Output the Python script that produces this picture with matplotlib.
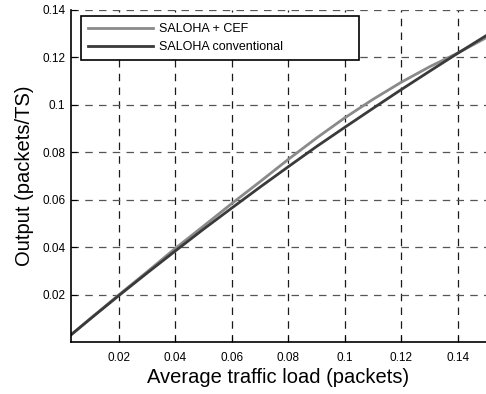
import matplotlib.pyplot as plt

# traffic load G and throughput S for both schemes
load = [0.003, 0.01, 0.02, 0.03, 0.04, 0.05, 0.06, 0.07, 0.08,
        0.09, 0.10, 0.11, 0.12, 0.13, 0.14, 0.15]
saloha_cef = [0.003, 0.0100, 0.0199, 0.0296, 0.0395, 0.0489, 0.0584, 0.0676,
              0.0770, 0.0860, 0.0945, 0.1023, 0.1095, 0.1160, 0.1218, 0.1282]
saloha_conv = [0.003, 0.0099, 0.0196, 0.0291, 0.0384, 0.0476, 0.0565, 0.0653,
               0.0739, 0.0824, 0.0905, 0.0985, 0.1064, 0.1141, 0.1217, 0.1291]

xticks = [0.02, 0.04, 0.06, 0.08, 0.1, 0.12, 0.14]
xtick_labels = ["0.02", "0.04", "0.06", "0.08", "0.1", "0.12", "0.14"]
yticks = [0.02, 0.04, 0.06, 0.08, 0.1, 0.12, 0.14]
ytick_labels = ["0.02", "0.04", "0.06", "0.08", "0.1", "0.12", "0.14"]

plt.rcParams["font.family"] = ["Liberation Sans", "DejaVu Sans"]

fig = plt.figure(figsize=(4.86, 3.94), dpi=100)
ax = fig.add_axes([0.146, 0.132, 0.854, 0.843])

ax.plot(load, saloha_cef, color="#8a8a8a", linewidth=2.0, label="SALOHA + CEF")
ax.plot(load, saloha_conv, color="#3a3a3a", linewidth=2.0, label="SALOHA conventional")

ax.set_xlim(0.003, 0.15)
ax.set_ylim(0, 0.14)
ax.set_xticks(xticks)
ax.set_xticklabels(xtick_labels)
ax.set_yticks(yticks)
ax.set_yticklabels(ytick_labels)
ax.tick_params(direction="in", length=4, labelsize=8.5, width=0.8)
ax.tick_params(axis="x", pad=7)
ax.tick_params(axis="y", pad=4)

ax.xaxis.grid(True, linestyle=(0, (6, 5)), color="#1a1a1a", linewidth=0.9)
ax.yaxis.grid(True, linestyle=(0, (6, 5)), color="#555555", linewidth=0.9)
ax.set_axisbelow(True)

for side in ("top", "right"):
    ax.spines[side].set_visible(False)
for side in ("left", "bottom"):
    ax.spines[side].set_linewidth(1.2)

ax.set_xlabel("Average traffic load (packets)", fontsize=14.5, labelpad=3)
ax.set_ylabel("Output (packets/TS)", fontsize=14.5, labelpad=6)

# fixed-width legend box in the upper left corner
leg = ax.legend(loc="upper left", bbox_to_anchor=(0.024, 0.852, 0.67, 0.13),
                mode="expand", fontsize=9, handlelength=5.2, fancybox=False,
                framealpha=1, edgecolor="black", borderaxespad=0,
                borderpad=0.6, labelspacing=0.45, handletextpad=0.45)
leg.get_frame().set_linewidth(1.2)

fig.savefig("out.png", dpi=100)
